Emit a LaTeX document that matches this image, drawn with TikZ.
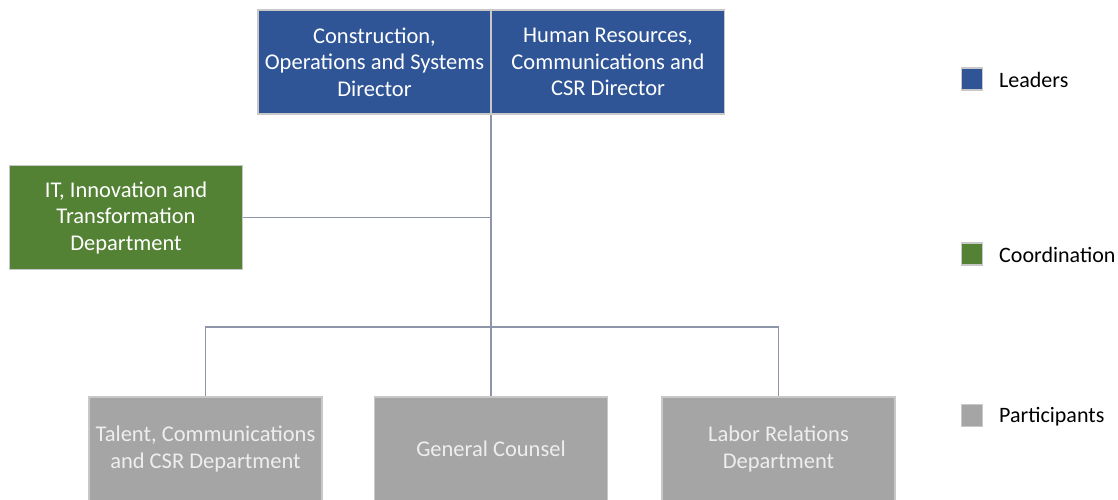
\documentclass[tikz,border=0pt]{standalone}
\usepackage{fontspec}
\setmainfont{Carlito}
\definecolor{leaderblue}{RGB}{47,85,151}
\definecolor{coordgreen}{RGB}{84,130,53}
\definecolor{partgray}{RGB}{165,165,165}
\definecolor{edgegray}{RGB}{200,200,200}
\definecolor{linkgray}{RGB}{140,150,168}
\definecolor{parttext}{RGB}{238,238,238}
\tikzset{
  orgbox/.style={draw=edgegray,line width=1.5pt,minimum width=233pt,minimum height=104pt,
    align=center,inner sep=2pt,font=\fontsize{22.5}{26.5}\selectfont},
  leaderbox/.style={orgbox,fill=leaderblue,text=white},
  coordbox/.style={orgbox,fill=coordgreen,text=white},
  partbox/.style={orgbox,fill=partgray,text=parttext},
  keybox/.style={draw=edgegray,line width=1.2pt,minimum width=21pt,minimum height=22pt,inner sep=0pt},
  keytext/.style={anchor=west,inner sep=0pt,font=\fontsize{22}{26}\selectfont},
  link/.style={draw=linkgray,line width=1.5pt}
}
\begin{document}
\begin{tikzpicture}[x=1pt,y=-1pt]
	\useasboundingbox (0,0) rectangle (1118,499);
	% leaders
	\node[leaderbox] (leadA) at (374.5,62) {Construction,\\Operations and Systems\\Director};
	\node[leaderbox] (leadB) at (608,62) {Human Resources,\\Communications and\\CSR Director};
	% coordination
	\node[coordbox] (coord) at (126,217.5) {IT, Innovation and\\Transformation\\Department};
	% participants
	\node[partbox] (partA) at (205.5,449) {Talent, Communications\\and CSR Department};
	\node[partbox] (partB) at (491,449) {General Counsel};
	\node[partbox] (partC) at (778.5,449) {Labor Relations\\Department};
	% connectors
	\coordinate (bus) at (491,327);
	\draw[link] (bus |- leadA.south) -- (bus);
	\draw[link] (coord.east) -- (coord.east -| bus);
	\draw[link] (partA.north) |- (bus) -| (partC.north);
	\draw[link] (bus) -- (partB.north);
	% legend
	\node[keybox,fill=leaderblue] (keyA) at (972,79) {};
	\node[keytext] (keyAtext) at (999,80) {Leaders};
	\node[keybox,fill=coordgreen] (keyB) at (972,254) {};
	\node[keytext] (keyBtext) at (999,255) {Coordination};
	\node[keybox,fill=partgray] (keyC) at (972,415.5) {};
	\node[keytext] (keyCtext) at (999,416.5) {Participants};
\end{tikzpicture}
\end{document}
